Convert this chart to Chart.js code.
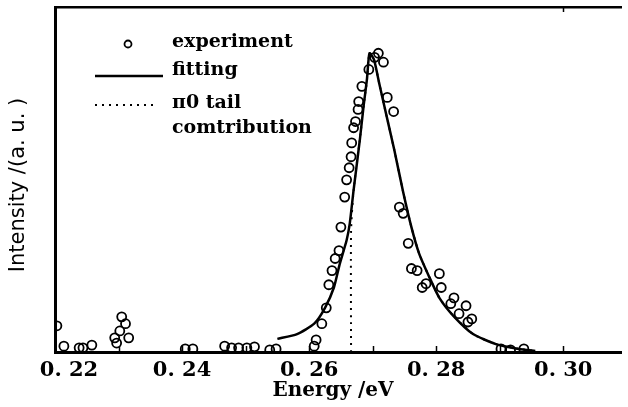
<!DOCTYPE html>
<html>
<head>
<meta charset="utf-8">
<script src="https://cdn.jsdelivr.net/npm/chart.js@4"></script>
<style>
  html, body { margin: 0; padding: 0; background: #fff; }
  #c { display: block; }
</style>
</head>
<body>
<canvas id="c" width="628" height="407"></canvas>
<script>
// experiment points (energy in eV, intensity in a.u.)
const expX = [0.2203, 0.2214, 0.2238, 0.2244, 0.2258,
  0.2305, 0.2311, 0.2302, 0.2316, 0.2294, 0.2297,
  0.2405, 0.2417,
  0.2467, 0.2478, 0.2489, 0.2502, 0.2514, 0.2538, 0.2548,
  0.2608, 0.2611, 0.2620, 0.2627, 0.2631, 0.2636, 0.2641, 0.2647, 0.2650, 0.2656,
  0.2659, 0.2663, 0.2666, 0.2667, 0.2670, 0.2673, 0.2677, 0.2678, 0.2683, 0.2694,
  0.2703, 0.2709, 0.2717, 0.2723, 0.2733,
  0.2742, 0.2748, 0.2756, 0.2761, 0.2770, 0.2778, 0.2784, 0.2805, 0.2808,
  0.2823, 0.2828, 0.2836, 0.2847, 0.2850, 0.2856,
  0.2902, 0.2917, 0.2938];
const expY = [0.076, 0.017, 0.012, 0.012, 0.020,
  0.102, 0.082, 0.061, 0.041, 0.041, 0.026,
  0.009, 0.009,
  0.017, 0.012, 0.012, 0.012, 0.015, 0.006, 0.009,
  0.017, 0.035, 0.082, 0.128, 0.195, 0.236, 0.271, 0.294, 0.362, 0.449,
  0.499, 0.534, 0.566, 0.606, 0.650, 0.668, 0.703, 0.726, 0.770, 0.819,
  0.854, 0.866, 0.840, 0.738, 0.697,
  0.420, 0.402, 0.315, 0.242, 0.236, 0.187, 0.198, 0.227, 0.187,
  0.140, 0.157, 0.111, 0.134, 0.087, 0.096,
  0.009, 0.006, 0.009];

// fitted curve
const fitX = [0.2550, 0.2581, 0.2608, 0.2625, 0.2639, 0.2648, 0.2659, 0.2664, 0.2670,
  0.2680, 0.2686, 0.2691, 0.2695, 0.2702, 0.2711, 0.2725, 0.2734, 0.2748, 0.2761,
  0.2773, 0.2788, 0.2805, 0.2827, 0.2858, 0.2894, 0.2930, 0.2956];
const fitY = [0.038, 0.052, 0.082, 0.128, 0.187, 0.254, 0.324, 0.373, 0.469,
  0.618, 0.717, 0.790, 0.866, 0.848, 0.773, 0.659, 0.586, 0.464, 0.362,
  0.286, 0.222, 0.157, 0.105, 0.052, 0.023, 0.009, 0.003];

// pi0 tail contribution (dotted)
const tailX = [0.2666, 0.2666, 0.2670, 0.2680, 0.2686, 0.2691, 0.2695, 0.2702, 0.2711,
  0.2725, 0.2734, 0.2748, 0.2761, 0.2773, 0.2788, 0.2805, 0.2827, 0.2858, 0.2894,
  0.2930, 0.2956];
const tailY = [0.0, 0.35, 0.469, 0.618, 0.717, 0.790, 0.866, 0.848, 0.773,
  0.659, 0.586, 0.464, 0.362, 0.286, 0.222, 0.157, 0.105, 0.052, 0.023,
  0.009, 0.003];

const tickValues = [0.22, 0.24, 0.26, 0.28, 0.30];
const tickLabels = ['0. 22', '0. 24', '0. 26', '0. 28', '0. 30'];
const minorTicks = [0.23, 0.24, 0.25, 0.26, 0.27, 0.28, 0.29, 0.30];

const pts = (xs, ys) => xs.map((x, i) => ({ x: x, y: ys[i] }));

const serif = '"DejaVu Serif", "Liberation Serif", serif';

// frame ticks, tick labels, axis titles, legend
const decorations = {
    id: 'decorations',
    afterDraw(chart) {
        const ctx = chart.ctx;
        const xs = chart.scales.x;
        const area = chart.chartArea;
        ctx.save();
        ctx.strokeStyle = '#000';
        ctx.fillStyle = '#000';

        // inward ticks
        ctx.lineWidth = 1.5;
        minorTicks.forEach(v => {
            const px = Math.round(xs.getPixelForValue(v)) + 0.5;
            ctx.beginPath();
            ctx.moveTo(px, area.bottom);
            ctx.lineTo(px, area.bottom - 6);
            ctx.stroke();
        });
        const pTop = Math.round(xs.getPixelForValue(0.30)) + 0.5;
        ctx.beginPath();
        ctx.moveTo(pTop, area.top);
        ctx.lineTo(pTop, area.top + 5);
        ctx.stroke();

        // tick labels
        ctx.font = 'bold 21px ' + serif;
        ctx.textAlign = 'center';
        ctx.textBaseline = 'middle';
        tickValues.forEach((v, i) => {
            let px = xs.getPixelForValue(v);
            if (i === 0) px += 14;
            ctx.fillText(tickLabels[i], px, 371);
        });

        // x title
        ctx.font = 'bold 20px ' + serif;
        ctx.fillText('Energy /eV', 333, 391);

        // y title
        ctx.save();
        ctx.translate(19, 185);
        ctx.rotate(-Math.PI / 2);
        ctx.font = '21px "DejaVu Sans", sans-serif';
        ctx.fillText('Intensity /(a. u. )', 0, 0);
        ctx.restore();

        // legend
        ctx.textAlign = 'left';
        ctx.font = 'bold 19px ' + serif;
        ctx.lineWidth = 1.8;
        ctx.beginPath();
        ctx.arc(128, 44, 3.5, 0, Math.PI * 2);
        ctx.stroke();
        ctx.fillText('experiment', 172, 42);

        ctx.lineWidth = 2.5;
        ctx.beginPath();
        ctx.moveTo(95, 76);
        ctx.lineTo(163, 76);
        ctx.stroke();
        ctx.fillText('fitting', 172, 70);

        ctx.lineWidth = 2;
        ctx.setLineDash([2, 5]);
        ctx.beginPath();
        ctx.moveTo(95, 105);
        ctx.lineTo(154, 105);
        ctx.stroke();
        ctx.setLineDash([]);
        ctx.fillText('π0 tail', 172, 103);
        ctx.fillText('comtribution', 172, 128);

        ctx.restore();
    }
};

new Chart(document.getElementById('c'), {
    type: 'scatter',
    data: {
        datasets: [
            {
                label: 'experiment', data: pts(expX, expY),
                showLine: false, pointStyle: 'circle', pointRadius: 4.5,
                pointBorderWidth: 1.8, pointBorderColor: '#000', pointBackgroundColor: 'rgba(255,255,255,0)'
            },
            {
                label: 'fitting', data: pts(fitX, fitY),
                showLine: true, borderColor: '#000', borderWidth: 2.5, pointRadius: 0,
                tension: 0.2
            },
            {
                label: 'π0 tail comtribution', data: pts(tailX, tailY),
                showLine: true, borderColor: '#000', borderWidth: 2, borderDash: [2, 5], pointRadius: 0,
                tension: 0.2
            }
        ]
    },
    options: {
        responsive: false, animation: false,
        layout: { padding: { left: 55, top: 7, right: 1, bottom: 55 } },
        plugins: { legend: { display: false }, tooltip: { enabled: false } },
        scales: {
            x: {
                type: 'linear', min: 0.22, max: 0.3092, position: 'bottom',
                ticks: { display: false }, grid: { display: false, drawTicks: false },
                border: { display: true, color: '#000', width: 3 }
            },
            x2: {
                type: 'linear', min: 0.22, max: 0.3092, position: 'top',
                ticks: { display: false }, grid: { display: false, drawTicks: false },
                border: { display: true, color: '#000', width: 2.5 }
            },
            y: {
                min: 0, max: 1, position: 'left',
                ticks: { display: false }, grid: { display: false, drawTicks: false },
                border: { display: true, color: '#000', width: 3 }
            }
        }
    },
    plugins: [decorations]
});
</script>
</body>
</html>
